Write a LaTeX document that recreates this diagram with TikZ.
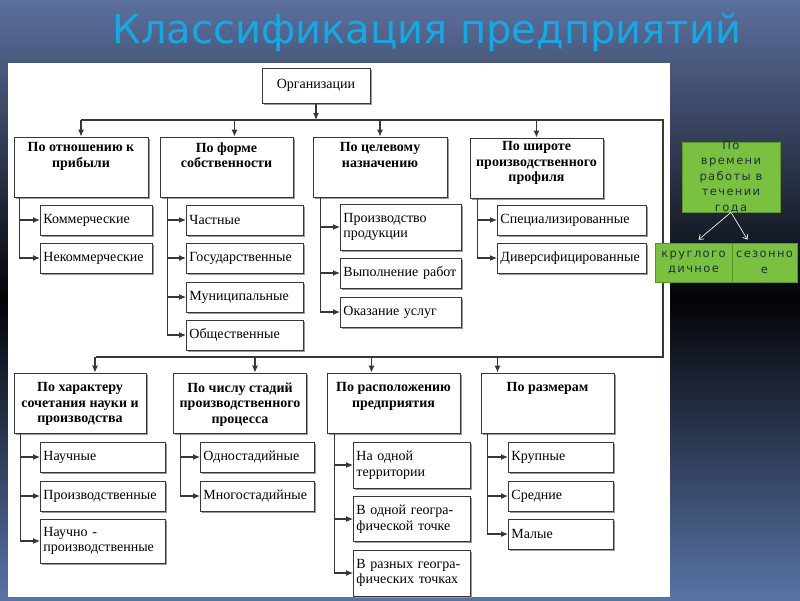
\documentclass[tikz,border=0pt]{standalone}
\usepackage{fontspec}
\setmainfont{Liberation Serif}
\newfontfamily\titlefont{DejaVu Sans}
\newfontfamily\greenfont[LetterSpace=12]{DejaVu Sans}
\usetikzlibrary{arrows.meta,shadows,calc}

\definecolor{bgblue}{RGB}{92,112,158}
\definecolor{bgdeep}{RGB}{4,4,8}
\definecolor{bgbottom}{RGB}{88,116,166}
\definecolor{titlecyan}{RGB}{22,168,226}
\definecolor{lineg}{RGB}{55,55,55}
\definecolor{boxgreen}{RGB}{122,193,66}
\definecolor{boxgreenb}{RGB}{88,150,40}
\definecolor{greentext}{RGB}{32,46,62}

\tikzset{
  shade box/.style={draw=lineg, line width=0.9pt, fill=white,
    drop shadow={shadow xshift=1.6pt, shadow yshift=-1.6pt, fill=black!40, opacity=1}},
  orgbox/.style={shade box, minimum width=108pt, minimum height=35pt, inner sep=0pt,
    font=\fontsize{14}{16}\selectfont},
  catbox/.style={shade box, minimum width=#1, minimum height=60pt, inner sep=0pt},
  cathead/.style={anchor=north, inner sep=#1, align=center,
    font=\bfseries\fontsize{14}{15.5}\selectfont},
  cathead/.default=6pt,
  leaf/.style={shade box, anchor=west, text width=#1-6pt, inner xsep=3pt,
    minimum height=30pt, align=left, font=\fontsize{14}{15.5}\selectfont},
  wire/.style={draw=lineg, line width=1.1pt},
  conn/.style={wire, -{Latex[length=7pt,width=6pt]}},
  greenbox/.style={draw=boxgreenb, line width=0.6pt, fill=boxgreen, inner sep=0pt},
  greentxt/.style={align=center, text=greentext,
    font=\greenfont\fontsize{11.5}{15.5}\selectfont},
  greenarrow/.style={draw=white!85!boxgreen, line width=0.7pt,
    -{Straight Barb[length=4pt,width=6pt]}}
}

\begin{document}
\begin{tikzpicture}[x=1pt,y=-1pt]
\useasboundingbox (0,0) rectangle (800,600);
% background and title
\shade[top color=bgblue, bottom color=bgbottom, middle color=bgdeep] (0,0) rectangle (800,600);
\node[text=titlecyan, font=\titlefont\fontsize{40}{42}\selectfont] (title) at (427,32) {Классификация предприятий};
\fill[white] (8,63) rectangle (670,597);

% Организации
\node[orgbox] (org) at (316,85.5) {Организации};
\coordinate (busT) at (316,120);
\coordinate (busTR) at (663,120);
\coordinate (busBR) at (663,357);
\draw[conn] (org.south) -- (busT);

% По отношению к прибыли
\node[catbox=134pt] (t1) at (81,167) {};
\node[cathead] at (t1.north) {По отношению к\\прибыли};
\node[leaf=112pt] (k1) at (40,220) {Коммерческие};
\node[leaf=112pt] (k2) at (40,258) {Некоммерческие};
\draw[conn] ($(t1.south west)+(6,0)$) |- (k1.west);
\draw[conn] ($(t1.south west)+(6,0)$) |- (k2.west);

% По форме собственности
\node[catbox=133pt] (t2) at (226.5,167) {};
\node[cathead] at (t2.north) {По форме\\собственности};
\node[leaf=117pt] (f1) at (186,220) {Частные};
\node[leaf=117pt] (f2) at (186,258) {Государственные};
\node[leaf=117pt] (f3) at (186,297) {Муниципальные};
\node[leaf=117pt] (f4) at (186,335) {Общественные};
\foreach \i in {1,...,4}
  \draw[conn] ($(t2.south west)+(8,0)$) |- (f\i.west);

% По целевому назначению
\node[catbox=134pt] (t3) at (380,167) {};
\node[cathead] at (t3.north) {По целевому\\назначению};
\node[leaf=121pt, minimum height=46pt] (n1) at (340,227) {Производство\\продукции};
\node[leaf=121pt] (n2) at (340,273) {Выполнение работ};
\node[leaf=121pt] (n3) at (340,312) {Оказание услуг};
\foreach \i in {1,...,3}
  \draw[conn] ($(t3.south west)+(8,0)$) |- (n\i.west);

% По широте производственного профиля
\node[catbox=133pt] (t4) at (536.5,168) {};
\node[cathead=4pt] at (t4.north) {По широте\\производственного\\профиля};
\node[leaf=149pt] (p1) at (497,220) {Специализированные};
\node[leaf=149pt] (p2) at (497,258) {Диверсифицированные};
\draw[conn] ($(t4.south west)+(8,0)$) |- (p1.west);
\draw[conn] ($(t4.south west)+(8,0)$) |- (p2.west);

% top bus
\draw[wire] (t1.north |- busT) -- (busTR) -- (busBR) -- ([xshift=15pt]t1.north |- busBR);
\draw[conn] (t1.north |- busT) -- (t1.north);
\draw[conn] ([xshift=8pt]t2.north |- busT) -- ([xshift=8pt]t2.north);
\draw[conn] (t3.north |- busT) -- (t3.north);
\draw[conn] (t4.north |- busT) -- (t4.north);

% По характеру сочетания науки и производства
\node[catbox=132pt] (b1) at (80,403) {};
\node[cathead=10pt] at (b1.north) {По характеру\\сочетания науки и\\производства};
\node[leaf=125pt] (s1) at (40,457) {Научные};
\node[leaf=125pt] (s2) at (40,496) {Производственные};
\node[leaf=125pt, minimum height=44pt] (s3) at (40,541) {Научно -\\производственные};
\foreach \i in {1,...,3}
  \draw[conn] ($(b1.south west)+(7,0)$) |- (s\i.west);

% По числу стадий производственного процесса
\node[catbox=133pt] (b2) at (240,403) {};
\node[cathead=10pt] at (b2.north) {По числу стадий\\производственного\\процесса};
\node[leaf=114pt] (c1) at (200,457) {Одностадийные};
\node[leaf=114pt] (c2) at (200,496) {Многостадийные};
\draw[conn] ($(b2.south west)+(7,0)$) |- (c1.west);
\draw[conn] ($(b2.south west)+(7,0)$) |- (c2.west);

% По расположению предприятия
\node[catbox=133pt] (b3) at (393.5,403) {};
\node[cathead=10pt] at (b3.north) {По расположению\\предприятия};
\node[leaf=117pt, minimum height=46pt] (r1) at (353,465) {На одной\\территории};
\node[leaf=117pt, minimum height=45pt] (r2) at (353,519) {В одной геогра-\\фической точке};
\node[leaf=117pt, minimum height=46pt] (r3) at (353,573) {В разных геогра-\\фических точках};
\foreach \i in {1,...,3}
  \draw[conn] ($(b3.south west)+(8,0)$) |- (r\i.west);

% По размерам
\node[catbox=133pt] (b4) at (547.5,403) {};
\node[cathead=10pt] at (b4.north) {По размерам};
\node[leaf=105pt] (z1) at (508,457) {Крупные};
\node[leaf=105pt] (z2) at (508,496) {Средние};
\node[leaf=105pt] (z3) at (508,534) {Малые};
\foreach \i in {1,...,3}
  \draw[conn] ($(b4.south west)+(7,0)$) |- (z\i.west);

% bottom bus arrows
\draw[conn] ([xshift=15pt]b1.north |- busBR) -- ([xshift=15pt]b1.north);
\draw[conn] ([xshift=15pt]b2.north |- busBR) -- ([xshift=15pt]b2.north);
\draw[conn] ([xshift=-22pt]b3.north |- busBR) -- ([xshift=-22pt]b3.north);
\draw[conn] ([xshift=-50pt]b4.north |- busBR) -- ([xshift=-50pt]b4.north);

% по времени работы
\node[greenbox, minimum width=98pt, minimum height=70pt] (year) at (731,177) {};
\node[greentxt] at (year.center) {По\\времени\\работы в\\течении\\года};
\node[greenbox, minimum width=77pt, minimum height=39pt, greentxt] (round) at (693.5,262.5) {круглого\\дичное};
\node[greenbox, minimum width=65pt, minimum height=39pt, greentxt] (season) at (764.5,262.5) {сезонно\\е};
\draw[greenarrow] (year.south) -- ($(round.north)+(5,-3)$);
\draw[greenarrow] (year.south) -- ($(season.north)+(-17,-3)$);
\end{tikzpicture}
\end{document}
